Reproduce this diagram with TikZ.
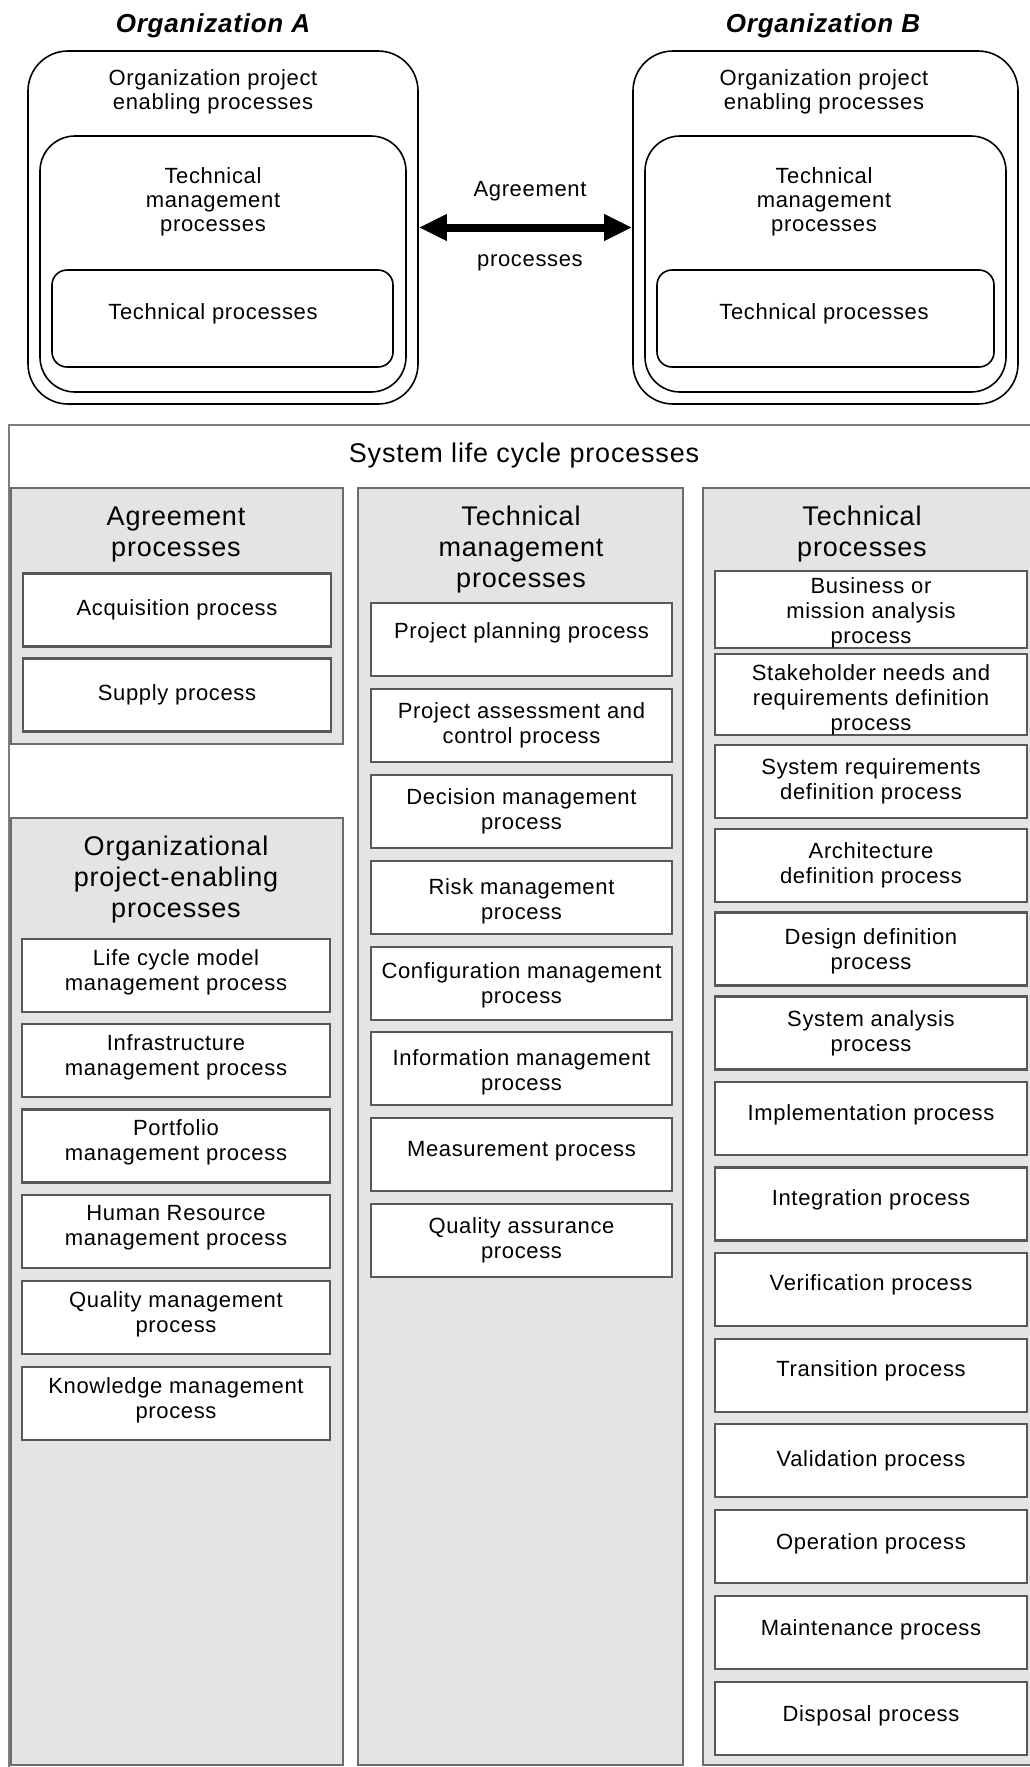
\documentclass[tikz,border=0pt]{standalone}
\usepackage{fontspec}
\setmainfont{Liberation Sans}[LetterSpace=3]
\usetikzlibrary{arrows.meta}
\definecolor{colfill}{RGB}{228,228,228}
\definecolor{boxline}{RGB}{88,88,88}
\definecolor{colline}{RGB}{108,108,108}
\definecolor{sysline}{RGB}{125,125,125}

\begin{document}
\begin{tikzpicture}[x=1pt, y=-1pt,
    orgbox/.style={draw, line width=1.6pt, rounded corners=#1, inner sep=0pt},
    orgtitle/.style={font=\fontsize{26}{30}\selectfont\bfseries\itshape},
    txt/.style={align=center, font=\fontsize{22}{24}\selectfont},
    colbox/.style={draw=colline, line width=2pt, fill=colfill, inner sep=0pt},
    coltitle/.style={align=center, font=\fontsize{27}{31}\selectfont},
    procbox/.style={draw=boxline, line width=2.2pt, fill=white, minimum width=#1,
        minimum height=73pt, inner sep=0pt, align=center, font=\fontsize{22}{25}\selectfont},
    procbox/.default=308pt,
    % text set a little higher or lower in its box
    txtup/.style={text depth=#1},
    txtdown/.style={text height=#1}]
    \useasboundingbox (0,0) rectangle (1030,1767);

            % Organization A
            \node[orgtitle] (orgAtitle) at (213,25.5) {Organization A};
            \node[orgbox=40pt, minimum width=390pt, minimum height=353pt] (orgA) at (223,227.5) {};
            \node[orgbox=35pt, minimum width=366pt, minimum height=256pt] (orgAtm) at (223,264) {};
            \node[orgbox=15pt, minimum width=341pt, minimum height=97pt] (orgAtp) at (222.5,318.5) {};
            \node[txt] (orgAtxt1) at (213,91.5) {Organization project\\enabling processes};
            \node[txt] (orgAtxt2) at (213,201.5) {Technical\\management\\processes};
            \node[txt] (orgAtxt3) at (213,313.5) {Technical processes};

            % Organization B
            \node[orgtitle] (orgBtitle) at (823,25.5) {Organization B};
            \node[orgbox=40pt, minimum width=385pt, minimum height=353pt] (orgB) at (825.5,227.5) {};
            \node[orgbox=35pt, minimum width=361pt, minimum height=256pt] (orgBtm) at (825.5,264) {};
            \node[orgbox=15pt, minimum width=337pt, minimum height=97pt] (orgBtp) at (825.5,318.5) {};
            \node[txt] (orgBtxt1) at (824,91.5) {Organization project\\enabling processes};
            \node[txt] (orgBtxt2) at (824,201.5) {Technical\\management\\processes};
            \node[txt] (orgBtxt3) at (824,313.5) {Technical processes};

            % Agreement between the two
            \node[txt] (agrtop) at (530,191.5) {Agreement};
            \node[txt] (agrbot) at (530,262.5) {processes};
            \draw[line width=8pt, {Triangle[length=28pt,width=25pt]}-{Triangle[length=28pt,width=25pt]}] (orgA.east) -- (orgB.west);

            % System life cycle processes
            \node[draw=sysline, line width=2pt, inner sep=0pt, minimum width=1051pt, minimum height=1375pt] (sys) at (534.5,1112.5) {};
            \node[font=\fontsize{27}{31}\selectfont] (systitle) at (524,455.5) {System life cycle processes};

            % Agreement processes
            \node[colbox, minimum width=332pt, minimum height=256pt] (colAgr) at (177,616) {};
            \node[coltitle] (colAgrtitle) at (176,534.5) {Agreement\\processes};
            \node[procbox] (acq) at (177,610) {Acquisition process};
            \node[procbox] (sup) at (177,695) {Supply process};

            % Organizational project-enabling processes
            \node[colbox, minimum width=332pt, minimum height=947pt] (colOrg) at (177,1291.5) {};
            \node[coltitle] (colOrgtitle) at (176,879.5) {Organizational\\project-enabling\\processes};
            \node[procbox, txtup=11.5pt] (lcm) at (176,975.5) {Life cycle model\\management process};
            \node[procbox, txtup=11.5pt] (infra) at (176,1060.5) {Infrastructure\\management process};
            \node[procbox, txtup=11.5pt] (portf) at (176,1146) {Portfolio\\management process};
            \node[procbox, txtup=11.5pt] (hrm) at (176,1231.5) {Human Resource\\management process};
            \node[procbox, txtup=11.5pt] (qm) at (176,1317.5) {Quality management\\process};
            \node[procbox, txtup=11.5pt] (km) at (176,1403.5) {Knowledge management\\process};

            % Technical management processes
            \node[colbox, minimum width=325pt, minimum height=1277pt] (colTm) at (520.5,1126.5) {};
            \node[coltitle] (colTmtitle) at (521,549.5) {Technical\\management\\processes};
            \node[procbox=301pt, txtup=18.5pt] (plan) at (521.5,639.5) {Project planning process};
            \node[procbox=301pt] (assess) at (521.5,725.5) {Project assessment and\\control process};
            \node[procbox=301pt] (decis) at (521.5,811.5) {Decision management\\process};
            \node[procbox=301pt, txtdown=48pt] (risk) at (521.5,897.5) {Risk management\\process};
            \node[procbox=301pt, txtdown=45.5pt] (conf) at (521.5,983.5) {Configuration management\\process};
            \node[procbox=301pt, txtdown=48pt] (info) at (521.5,1068.5) {Information management\\process};
            \node[procbox=301pt, txtup=11.5pt] (meas) at (521.5,1154.5) {Measurement process};
            \node[procbox=301pt] (qa) at (521.5,1240.5) {Quality assurance\\process};

            % Technical processes
            \node[colbox, minimum width=342pt, minimum height=1277pt] (colTech) at (874,1126.5) {};
            \node[coltitle] (colTechtitle) at (862,534.5) {Technical\\processes};
            \node[procbox=312pt, txtdown=73pt] (bma) at (871,609.5) {Business or\\mission analysis\\process};
            \node[procbox=312pt, txtdown=77pt] (snrd) at (871,694.5) {Stakeholder needs and\\requirements definition\\process};
            \node[procbox=312pt] (srd) at (871,781.5) {System requirements\\definition process};
            \node[procbox=312pt] (arch) at (871,865.5) {Architecture\\definition process};
            \node[procbox=312pt, txtdown=45.5pt] (design) at (871,949) {Design definition\\process};
            \node[procbox=312pt] (sana) at (871,1033) {System analysis\\process};
            \node[procbox=312pt, txtup=11.5pt] (impl) at (871,1118.5) {Implementation process};
            \node[procbox=312pt, txtup=13.5pt] (integ) at (871,1204) {Integration process};
            \node[procbox=312pt, txtup=13.5pt] (verif) at (871,1289.5) {Verification process};
            \node[procbox=312pt, txtup=13.5pt] (trans) at (871,1375.5) {Transition process};
            \node[procbox=312pt] (valid) at (871,1460.5) {Validation process};
            \node[procbox=312pt, txtup=9pt] (oper) at (871,1546.5) {Operation process};
            \node[procbox=312pt, txtup=9pt] (maint) at (871,1632.5) {Maintenance process};
            \node[procbox=312pt, txtup=9pt] (disp) at (871,1718.5) {Disposal process};
\end{tikzpicture}
\end{document}
